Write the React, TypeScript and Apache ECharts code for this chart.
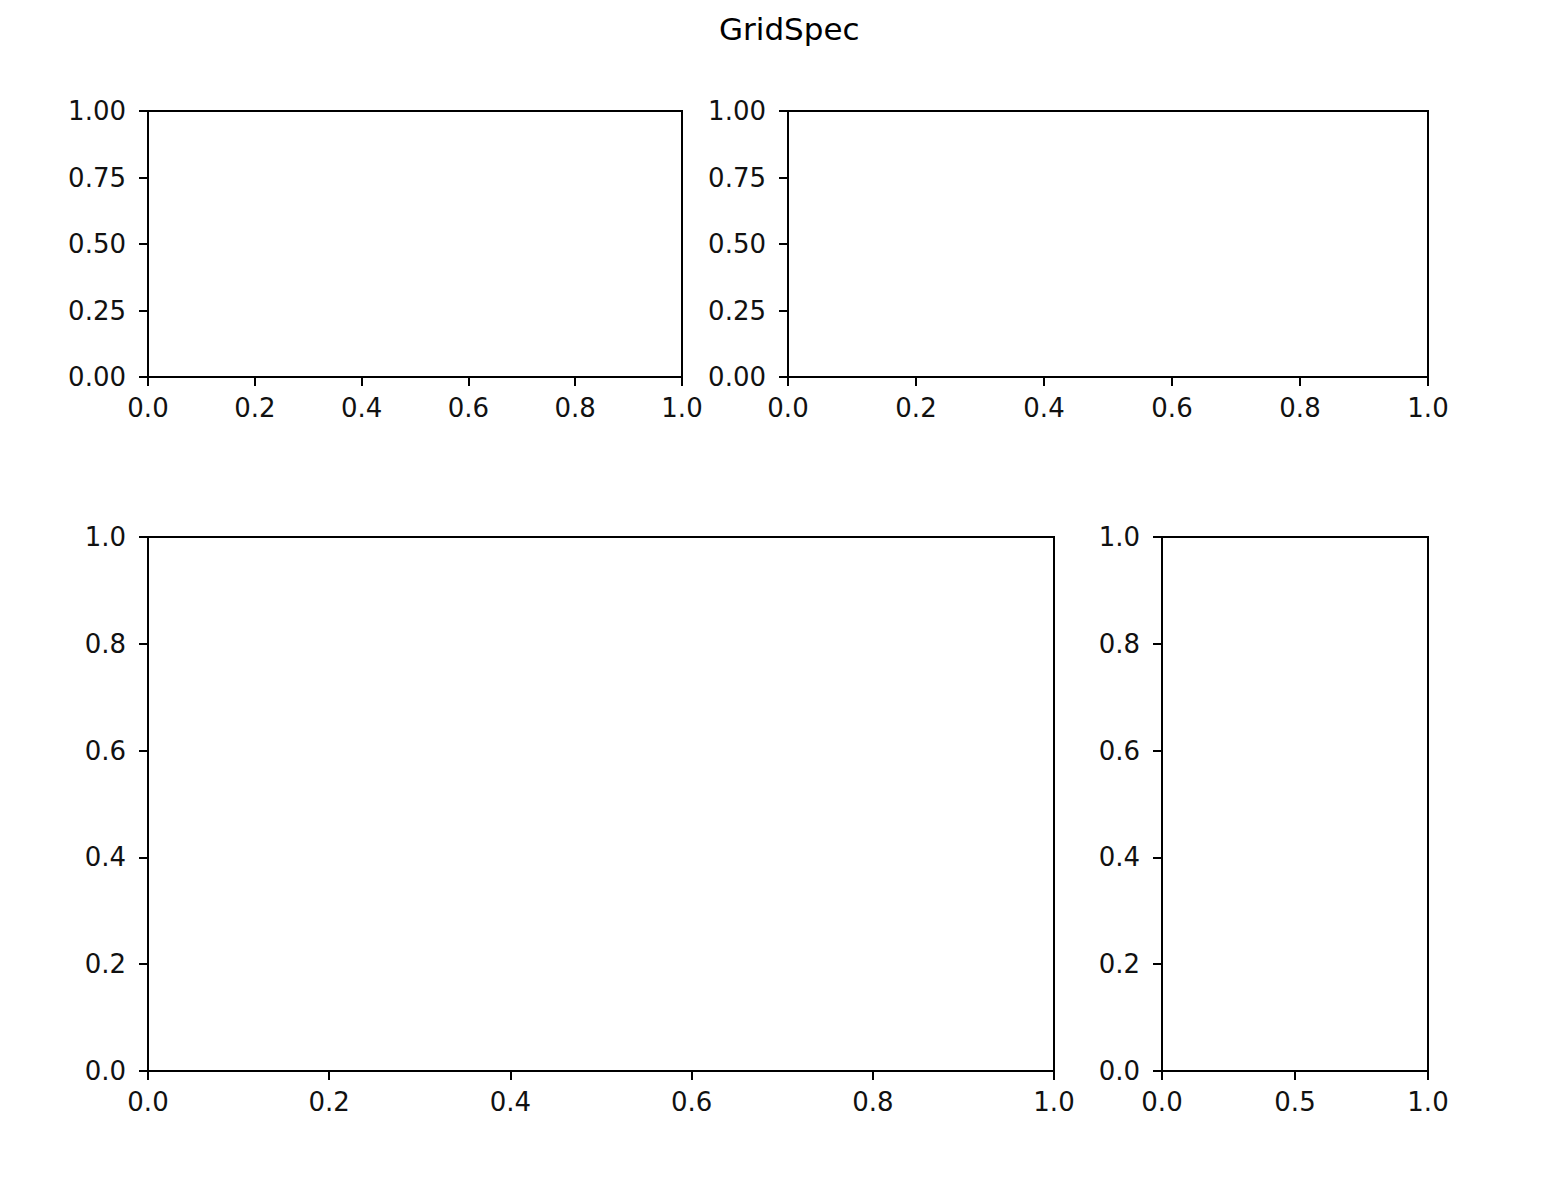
import React, { useEffect, useRef } from "react";
import * as echarts from "echarts";

const titleText = "GridSpec";
const topYTicks = [0, 0.25, 0.5, 0.75, 1.0];
const fifthTicks = [0, 0.2, 0.4, 0.6, 0.8, 1.0];
const halfTicks = [0, 0.5, 1.0];

// panels: [left, top, width, height]
const panelBoxes = [
  [148, 111, 534, 266],
  [788, 111, 640, 266],
  [148, 537, 906, 534],
  [1162, 537, 266, 534],
];
const panelXTicks = [fifthTicks, fifthTicks, fifthTicks, halfTicks];
const panelYTicks = [topYTicks, topYTicks, fifthTicks, fifthTicks];
const panelXDigits = [1, 1, 1, 1];
const panelYDigits = [2, 2, 1, 1];

const FONT = "DejaVu Sans";

export default function App() {
  const ref = useRef<HTMLDivElement>(null);
  useEffect(() => {
    if (!ref.current) return;
    const chart = echarts.init(ref.current, undefined, { renderer: "svg" });
    const grids = panelBoxes.map((b) => ({
      left: b[0],
      top: b[1],
      width: b[2],
      height: b[3],
      show: true,
      borderColor: "#000",
      borderWidth: 2,
      backgroundColor: "transparent",
      containLabel: false,
    }));
    const axisCommon = (ticks: number[], digits: number, isX: boolean) => ({
      type: "value",
      min: ticks[0],
      max: ticks[ticks.length - 1],
      interval: ticks[1] - ticks[0],
      splitLine: { show: false },
      axisLine: { show: true, onZero: false, lineStyle: { color: "#000", width: 2 } },
      axisTick: { show: true, inside: false, length: 9, lineStyle: { color: "#000", width: 2 } },
      axisLabel: {
        show: true,
        color: "#111",
        fontFamily: FONT,
        fontSize: 26,
        margin: isX ? 18 : 22,
        formatter: (v: number) => v.toFixed(digits),
        showMinLabel: true,
        showMaxLabel: true,
      },
    });
    const xAxis = panelBoxes.map((_, i) => ({
      ...axisCommon(panelXTicks[i], panelXDigits[i], true),
      gridIndex: i,
      position: "bottom",
    }));
    const yAxis = panelBoxes.map((_, i) => ({
      ...axisCommon(panelYTicks[i], panelYDigits[i], false),
      gridIndex: i,
      position: "left",
    }));
    const series = panelBoxes.map((_, i) => ({
      type: "line",
      xAxisIndex: i,
      yAxisIndex: i,
      data: [] as number[][],
    }));
    chart.setOption({
      animation: false,
      backgroundColor: "#fff",
      title: {
        text: titleText,
        left: 714,
        top: 8,
        textStyle: { fontFamily: FONT, fontSize: 31, fontWeight: "normal", color: "#000" },
      },
      grid: grids,
      xAxis,
      yAxis,
      series,
    });
    return () => chart.dispose();
  }, []);
  return (
    <div
      ref={ref}
      style={{ position: "absolute", left: 0, top: 0, width: 1551, height: 1180 }}
    />
  );
}
